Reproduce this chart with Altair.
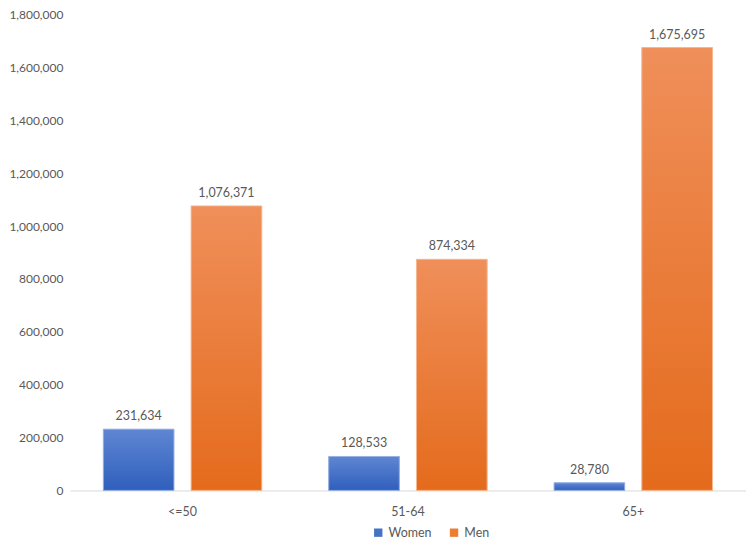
import altair as alt
import pandas as pd

categories = ["<=50", "51-64", "65+"]
women = [231634, 128533, 28780]
men = [1076371, 874334, 1675695]
series = ["Women", "Men"]

rows = []
for c, w, m in zip(categories, women, men):
    rows.append({"age": c, "sex": "Women", "value": w})
    rows.append({"age": c, "sex": "Men", "value": m})
df = pd.DataFrame(rows)

FONT = "Lato"
TXT = "#595959"

x = alt.X("age:N", sort=categories, title=None,
          scale=alt.Scale(paddingInner=0.297, paddingOuter=0.1487),
          axis=alt.Axis(labelAngle=0, ticks=False, domain=True, domainColor="#d9d9d9",
                        domainWidth=1, labelPadding=15, labelFont=FONT, labelFontSize=12.5,
                        labelColor=TXT))
xo = alt.XOffset("sex:N", sort=series, scale=alt.Scale(paddingInner=0.195, paddingOuter=0))
y = alt.Y("value:Q", title=None,
          scale=alt.Scale(domain=[0, 1800000], nice=False),
          axis=alt.Axis(values=list(range(0, 1800001, 200000)),
                        labelExpr="format(datum.value, ',')", ticks=False,
                        domain=False, grid=False, labelPadding=7, labelFont=FONT,
                        labelFontSize=12, labelColor=TXT))

color = alt.Color("sex:N", sort=series,
                  scale=alt.Scale(domain=series, range=["#4472c4", "#ed7d31"]),
                  legend=alt.Legend(title=None, orient="none", legendX=303, legendY=513,
                                    direction="horizontal",
                                    symbolType="square", symbolSize=70, labelFont=FONT,
                                    labelFontSize=12.5, labelColor=TXT, columnPadding=16,
                                    symbolStrokeWidth=0))

base = alt.Chart(df).encode(x=x, xOffset=xo, y=y)

legend_bars = base.mark_bar().encode(color=color)

blue_grad = alt.Gradient(gradient="linear", x1=0, y1=0, x2=0, y2=1,
                         stops=[alt.GradientStop(color="#5f86d2", offset=0),
                                alt.GradientStop(color="#2f5fbd", offset=1)])
orange_grad = alt.Gradient(gradient="linear", x1=0, y1=0, x2=0, y2=1,
                           stops=[alt.GradientStop(color="#f08f5a", offset=0),
                                  alt.GradientStop(color="#e46b1c", offset=1)])

women_bars = base.transform_filter(alt.datum.sex == "Women").mark_bar(
    fill=blue_grad, stroke="#9db4e3", strokeWidth=1)
men_bars = base.transform_filter(alt.datum.sex == "Men").mark_bar(
    fill=orange_grad, stroke="#f6b891", strokeWidth=1)

labels = base.mark_text(dy=-13, font=FONT, fontSize=12.5, color=TXT).encode(
    text=alt.Text("value:Q", format=","))

chart = alt.layer(legend_bars, women_bars, men_bars, labels).properties(
    width=678, height=477,
    padding={"left": 0, "top": 0, "right": 0, "bottom": 0}
).configure_view(stroke=None)

chart.save("out.html", embed_options={"renderer": "svg", "actions": False})
